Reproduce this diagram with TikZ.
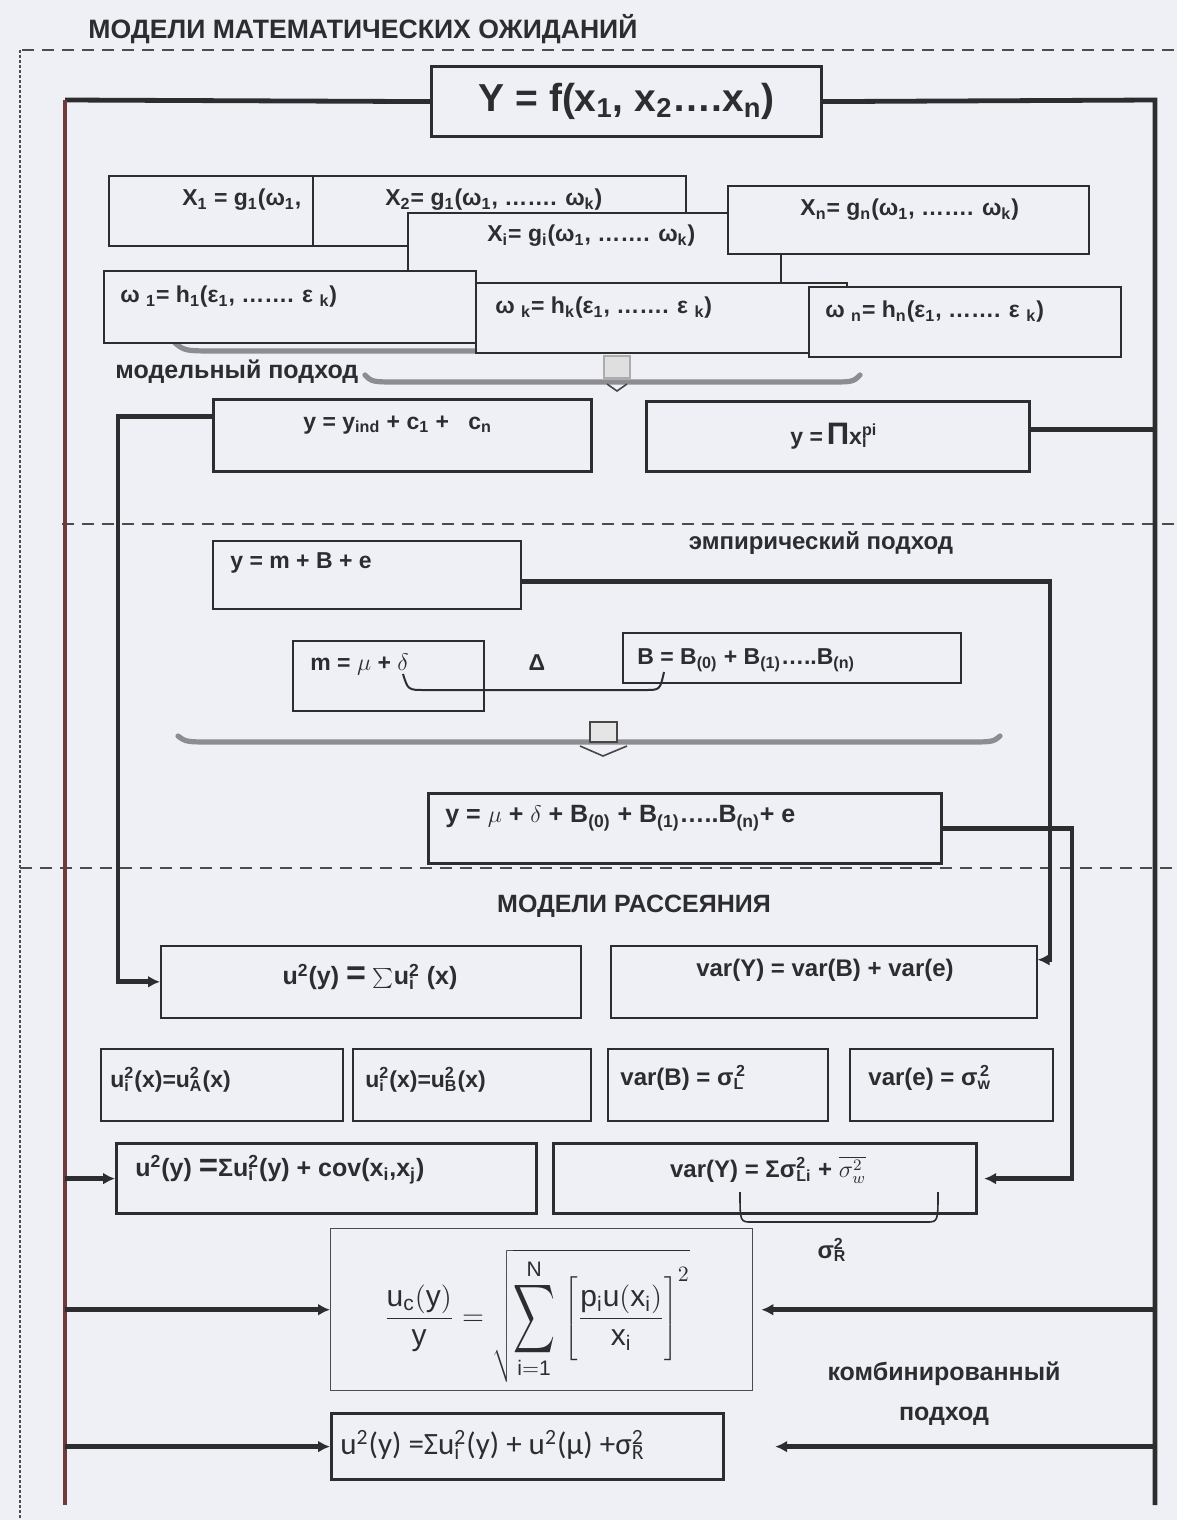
\documentclass[tikz,border=0pt]{standalone}
\usepackage{fontspec}
\usepackage{graphicx}
\setmainfont{Liberation Sans}
\newfontfamily\calib{Carlito}
\usetikzlibrary{arrows.meta,calc}
\definecolor{bg}{RGB}{238,240,246}
\definecolor{ink}{RGB}{45,45,48}
\definecolor{maroonl}{RGB}{112,58,58}
\definecolor{barg}{RGB}{140,140,146}
\newcommand{\SubSup}[2]{{\ooalign{\textsuperscript{#2}\cr\textsubscript{#1}\cr}}}
\tikzset{
  box/.style={draw=ink, line width=0.8pt, fill=bg, inner sep=0pt, anchor=north west},
  tbox/.style={box, line width=1.6pt},
  conn/.style={draw=ink, line width=2.4pt},
  arr/.style={conn, -{Latex[length=6pt,width=6pt]}},
  sepline/.style={draw=gray!60!black, line width=1pt, dash pattern=on 6pt off 4pt},
  lbl/.style={text=ink, font=\bfseries\fontsize{11.5}{13}\selectfont, inner sep=0pt},
  bar/.style={draw=barg, line width=2.6pt, line cap=round},
}
\begin{document}
\begin{tikzpicture}[x=0.5pt,y=-0.5pt]
\fill[bg] (0,0) rectangle (1177,1520);
\useasboundingbox (0,0) rectangle (1177,1520);

% separators
\draw[sepline] (22,50) -- (1177,50);
\draw[draw=gray!60!black, line width=0.6pt, dash pattern=on 1.5pt off 1pt] (20,50) -- (20,1520);
\draw[sepline] (62,524) -- (1177,524);
\draw[sepline] (20,868) -- (1177,868);

% titles
\node[lbl, font=\bfseries\fontsize{13.3}{15}\selectfont, anchor=west] (title) at (88,29) {МОДЕЛИ МАТЕМАТИЧЕСКИХ ОЖИДАНИЙ};
\node[lbl, font=\bfseries\fontsize{12.5}{15}\selectfont, anchor=west] (model) at (115,372) {модельный подход};
\node[lbl, font=\bfseries\fontsize{12}{15}\selectfont] (emp) at (821,543) {эмпирический подход};
\node[lbl, font=\bfseries\fontsize{12.5}{15}\selectfont] (scat) at (634,906) {МОДЕЛИ РАССЕЯНИЯ};
\node[lbl, font=\bfseries\fontsize{12.5}{16}\selectfont, align=center] (comb) at (944,1394) {комбинированный\\[4pt]подход};

% frame coordinates
\coordinate (LT) at (65,100);
\coordinate (LB) at (65,1505);
\coordinate (RT) at (1155,100);
\coordinate (RB) at (1155,1505);
\coordinate (c1) at (118,0);
\coordinate (c2) at (1050,0);
\coordinate (c3) at (1072,0);

% gray brace bars (behind boxes)
\draw[bar] (175,343) .. controls (185,351) .. (220,351) -- (860,351);

% top box
\node[tbox, minimum width=195pt, minimum height=35pt] (Y) at (430,65) {};
\node[lbl, font=\bfseries\fontsize{19.5}{22}\selectfont] (Yt) at (Y.center) {Y = f(x\textsubscript{1}, x\textsubscript{2}….x\textsubscript{n})};

% X boxes
\node[box, minimum width=102pt, minimum height=35pt] (x1) at (108,175) {};
\node[lbl, anchor=west] (x1t) at (182,200) {X\textsubscript{1} = g\textsubscript{1}(ω\textsubscript{1},};
\node[box, minimum width=186.5pt, minimum height=35pt] (x2) at (312,175) {};
\node[lbl, anchor=west] (x2t) at (385,200) {X\textsubscript{2}= g\textsubscript{1}(ω\textsubscript{1}, ……. ω\textsubscript{k})};
\node[box, minimum width=186.5pt, minimum height=35pt] (xi) at (407,212) {};
\node[lbl, anchor=west] (xit) at (487,236) {X\textsubscript{i}= g\textsubscript{i}(ω\textsubscript{1}, ……. ω\textsubscript{k})};
\node[box, minimum width=180.5pt, minimum height=34pt] (xn) at (727,185) {};
\node[lbl, anchor=west] (xnt) at (800,210) {X\textsubscript{n}= g\textsubscript{n}(ω\textsubscript{1}, ……. ω\textsubscript{k})};

% omega boxes
\node[box, minimum width=186pt, minimum height=36pt] (w1) at (103,270) {};
\node[lbl, anchor=west] (w1t) at (120,297) {ω \textsubscript{1}= h\textsubscript{1}(ε\textsubscript{1}, ……. ε \textsubscript{k})};
\node[box, minimum width=185.5pt, minimum height=35pt] (wk) at (475,282) {};
\node[lbl, anchor=west] (wkt) at (495,308) {ω \textsubscript{k}= h\textsubscript{k}(ε\textsubscript{1}, ……. ε \textsubscript{k})};
\node[box, minimum width=156pt, minimum height=35pt] (wn) at (808,286) {};
\node[lbl, anchor=west] (wnt) at (825,312) {ω \textsubscript{n}= h\textsubscript{n}(ε\textsubscript{1}, ……. ε \textsubscript{k})};

% lower brace with block arrow
\draw[bar] (365,375) .. controls (372,382) .. (400,382) -- (828,382) .. controls (853,382) .. (860,375);
\draw[draw=gray!65, fill=gray!25, line width=0.8pt] (604,356) rectangle (630,378);
\draw[draw=gray!55!black, line width=0.8pt] (607,384) -- (617,391) -- (627,384);

% model approach boxes
\node[tbox, minimum width=189pt, minimum height=36pt] (yind) at (212,398) {};
\node[lbl, anchor=west] (yindt) at (303,425) {y = y\textsubscript{ind} + c\textsubscript{1} + \ \ c\textsubscript{n}};
\node[tbox, minimum width=191.5pt, minimum height=35pt] (prod) at (645,400) {};
\node[lbl, anchor=west] (prodt) at (790,436) {y =\,{\fontsize{15.5}{15}\selectfont Π}x\SubSup{i}{pi}};

% empirical
\node[box, minimum width=154pt, minimum height=34pt] (ymbe) at (212,540) {};
\node[lbl, anchor=west] (ymbet) at (230,563) {y = m + B + e};
\node[box, minimum width=95.5pt, minimum height=35pt] (mbox) at (292,640) {};
\node[lbl, anchor=west] (mt) at (310,664) {m = $\mu$ + $\delta$};
\node[lbl] (delta) at (537,663) {Δ};
\node[box, minimum width=169pt, minimum height=25pt] (bbox) at (622,632) {};
\node[lbl, anchor=west] (bt) at (637,660) {B = B\textsubscript{(0)} + B\textsubscript{(1)}…..B\textsubscript{(n)}};
\draw[draw=ink, line width=1pt] (403,674) .. controls (408,690) .. (425,690) -- (645,690) .. controls (660,690) .. (664,672);

% second brace
\draw[bar] (178,736) .. controls (186,742) .. (215,742) -- (965,742) .. controls (993,742) .. (1000,736);
\draw[draw=gray!55!black, fill=gray!20, line width=0.8pt] (590,722) rectangle (617,742);
\draw[draw=gray!55!black, line width=0.8pt] (580,746) -- (603,756) -- (627,746);

\node[tbox, minimum width=256.5pt, minimum height=35pt] (ysum) at (427,792) {};
\node[lbl, font=\bfseries\fontsize{12.5}{15}\selectfont, anchor=west] (ysumt) at (445,818) {y = $\mu$ + $\delta$ + B\textsubscript{(0)} + B\textsubscript{(1)}…..B\textsubscript{(n)}+ e};

% scattering models
\node[box, minimum width=210pt, minimum height=36pt] (u2) at (160,945) {};
\node[lbl, font=\bfseries\fontsize{12.5}{15}\selectfont] (u2t) at (370,977) {u\textsuperscript{2}(y) {\fontsize{17}{17}\selectfont =} $\sum$u\SubSup{i}{2} (x)};
\node[box, minimum width=213pt, minimum height=36pt] (varY) at (610,945) {};
\node[lbl, font=\bfseries\fontsize{12}{15}\selectfont] (varYt) at (825,970) {var(Y) = var(B) + var(e)};

\node[box, minimum width=121pt, minimum height=36pt] (uA) at (100,1048) {};
\node[lbl, anchor=west] (uAt) at (110,1080) {u\SubSup{i}{2}(x)=u\SubSup{A}{2}(x)};
\node[box, minimum width=119pt, minimum height=36pt] (uB) at (352,1048) {};
\node[lbl, anchor=west] (uBt) at (365,1080) {u\SubSup{i}{2}(x)=u\SubSup{B}{2}(x)};
\node[box, minimum width=110pt, minimum height=36pt] (varB) at (607,1048) {};
\node[lbl, font=\bfseries\fontsize{12}{15}\selectfont, anchor=west] (varBt) at (620,1078) {var(B) = σ\SubSup{L}{\,2}};
\node[box, minimum width=101.5pt, minimum height=36pt] (vare) at (849,1048) {};
\node[lbl, font=\bfseries\fontsize{12}{15}\selectfont, anchor=west] (varet) at (868,1078) {var(e) = σ\SubSup{w}{\,2}};

\node[tbox, minimum width=210pt, minimum height=35pt] (u2cov) at (115,1142) {};
\node[lbl, font=\bfseries\fontsize{12.5}{15}\selectfont, anchor=west] (u2covt) at (135,1170) {u\textsuperscript{2}(y) {\fontsize{16.5}{16}\selectfont =}Σu\SubSup{i}{2}(y) + cov(x\textsubscript{i},x\textsubscript{j})};
\node[tbox, minimum width=211.5pt, minimum height=35pt] (varY2) at (552,1142) {};
\node[lbl, font=\bfseries\fontsize{12}{15}\selectfont] (varY2t) at (768,1170) {var(Y) = Σσ\SubSup{Li}{2} + $\overline{\sigma_w^2}$};
\draw[draw=ink, line width=0.8pt] (740,1192) .. controls (740,1222) .. (752,1222) -- (926,1222) .. controls (938,1222) .. (938,1192);
\node[lbl, font=\bfseries\fontsize{12}{15}\selectfont] (sigR) at (832,1250) {σ\SubSup{R}{2}};

% formula
\node[box, draw=gray!60!black, line width=0.7pt, minimum width=211pt, minimum height=81pt] (fbox) at (330,1228) {};
\node[text=ink, inner sep=0pt] (fml) at (537,1316) {\fontsize{15}{18}\selectfont
  $\displaystyle \frac{\mathrm{u_c(y)}}{\mathrm{y}} = \sqrt{\mathop{\vcenter{\hbox{\scalebox{1.45}[2.4]{$\displaystyle\sum$}}}}\limits_{\mathrm{i=1}}^{\mathrm{N}}\,\left[\vcenter{\hbox{\rule{0pt}{46pt}}}\frac{\mathrm{p_i u(x_i)}}{\mathrm{x_i}}\right]^2}$};

% last box
\node[tbox, minimum width=196pt, minimum height=33pt] (last) at (330,1412) {};
\node[text=ink, inner sep=0pt, anchor=west, font=\calib\fontsize{15.5}{17}\selectfont] (lastt) at (340,1445) {u\textsuperscript{2}(y) =Σu\SubSup{i}{2}(y) + u\textsuperscript{2}(μ) +σ\SubSup{R}{2}};

% frame lines
\draw[conn] (Y.west) -- (LT);
\draw[conn, draw=maroonl, line width=2.4pt] (LT) -- (LB);
\draw[conn] (Y.east) -- (RT) -- (RB);

% connectors
\coordinate (ya1) at ($(yind.north west)!0.25!(yind.south west)$);
\draw[arr] (ya1) -| (u2.west -| c1) -- (u2.west);
\coordinate (pa1) at ($(prod.north east)!0.4!(prod.south east)$);
\draw[conn] (pa1) -- (pa1 -| RT);
\coordinate (ma1) at ($(ymbe.north east)!0.6!(ymbe.south east)$);
\coordinate (vq) at ($(varY.north east)!0.2!(varY.south east)$);
\draw[arr] (ma1) -| (vq -| c2) -- (vq);
\draw[arr, shorten >=3pt] (ysum.east) -| (varY2.east -| c3) -- (varY2.east);

\draw[arr] (u2cov.west -| LT) -- (u2cov.west);
\draw[arr] (fbox.west -| LT) -- (fbox.west);
\draw[arr, shorten >=4pt] (fbox.east -| RT) -- (fbox.east);
\draw[arr] (last.west -| LT) -- (last.west);
\draw[arr, shorten >=25pt] (last.east -| RT) -- (last.east);
\end{tikzpicture}
\end{document}
